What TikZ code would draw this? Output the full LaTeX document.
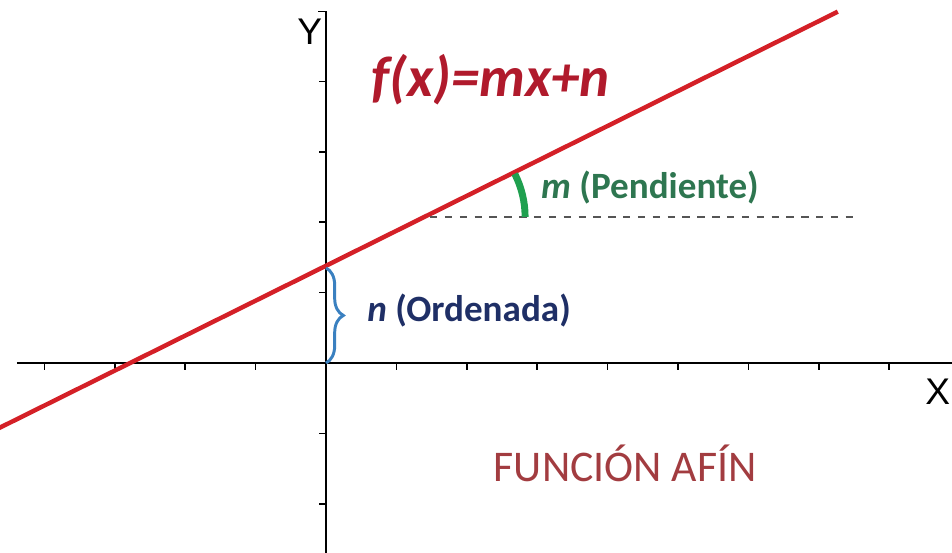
\documentclass[tikz,border=0pt]{standalone}
\usepackage{fontspec}
\setmainfont{Carlito}
\newfontfamily\axisfont{Liberation Sans}
\usetikzlibrary{decorations.pathreplacing}
\definecolor{linered}{HTML}{D42027}
\definecolor{formred}{HTML}{B01A2C}
\definecolor{titlered}{HTML}{A23C40}
\definecolor{slopegreen}{HTML}{1FA04F}
\definecolor{slopetext}{HTML}{2E7650}
\definecolor{bracablue}{HTML}{3A80C0}
\definecolor{navy}{HTML}{1F2F66}
\definecolor{dashgray}{HTML}{555555}

\begin{document}
\begin{tikzpicture}[
  every node/.style={inner sep=0pt},
  axisline/.style={black, line width=0.6pt},
  axislabel/.style={font=\axisfont\fontsize{15}{18}\selectfont},
  partlabel/.style={font=\bfseries\fontsize{15}{18}\selectfont, anchor=west},
]

% Frame
\useasboundingbox (-4.631,-2.699) rectangle (8.892,5.156);

% Axes
\coordinate (O) at (0,0);
\coordinate (xl) at (-4.39,0);
\coordinate (xr) at (8.892,0);
\coordinate (yt) at (0,4.99);
\coordinate (yb) at (0,-2.699);
\draw[axisline] (xl) -- (xr);
\draw[axisline] (-0.11,4.99) -- (yt) -- (yb);

% Ticks
\draw[axisline] (-4,0) -- ++(0,-0.1) (-3,0) -- ++(0,-0.1) (-2,0) -- ++(0,-0.1) (-1,0) -- ++(0,-0.1)
  (1,0) -- ++(0,-0.1) (2,0) -- ++(0,-0.1) (3,0) -- ++(0,-0.1) (4,0) -- ++(0,-0.1)
  (5,0) -- ++(0,-0.1) (6,0) -- ++(0,-0.1) (7,0) -- ++(0,-0.1) (8,0) -- ++(0,-0.1);
\draw[axisline] (0,4) -- ++(-0.1,0) (0,3) -- ++(-0.1,0) (0,2) -- ++(-0.1,0) (0,1) -- ++(-0.1,0)
  (0,-1) -- ++(-0.1,0) (0,-2) -- ++(-0.1,0);

% Axis labels
\node[axislabel] (xlab) at (8.69,-0.41) {X};
\node[axislabel] (ylab) at (-0.23,4.70) {Y};

% Line f(x)=mx+n
\coordinate (lstart) at (-4.75,-0.977);
\coordinate (cut) at (0,1.35);
\coordinate (lend) at (7.27,4.99);
\draw[linered, line width=1.8pt] (lstart) -- (lend);

% Formula
\node[text=formred, font=\bfseries\itshape\fontsize{23}{26}\selectfont] (form) at (2.34,4.02) {f(x)=mx+n};

% Slope
\coordinate (hit) at (1.478,2.074);
\coordinate (dashend) at (7.51,2.074);
\draw[dashgray, dashed, line width=0.5pt] (hit) -- (dashend);
\draw[slopegreen, line width=2.8pt] ([shift={(1.35,0)}]hit) arc[start angle=0, end angle=27, radius=1.35];
\node[partlabel, text=slopetext] (slope) at (3.05,2.49) {\textit{m} (Pendiente)};

% Intercept
\draw[bracablue, line width=1.2pt, decorate, decoration={brace, amplitude=7pt, mirror}] (O) -- (cut);
\node[partlabel, text=navy] (inter) at (0.58,0.75) {\textit{n} (Ordenada)};

% Title
\node[text=titlered, font=\fontsize{17.7}{20}\selectfont] (title) at (4.25,-1.42) {FUNCIÓN AFÍN};

\end{tikzpicture}
\end{document}
